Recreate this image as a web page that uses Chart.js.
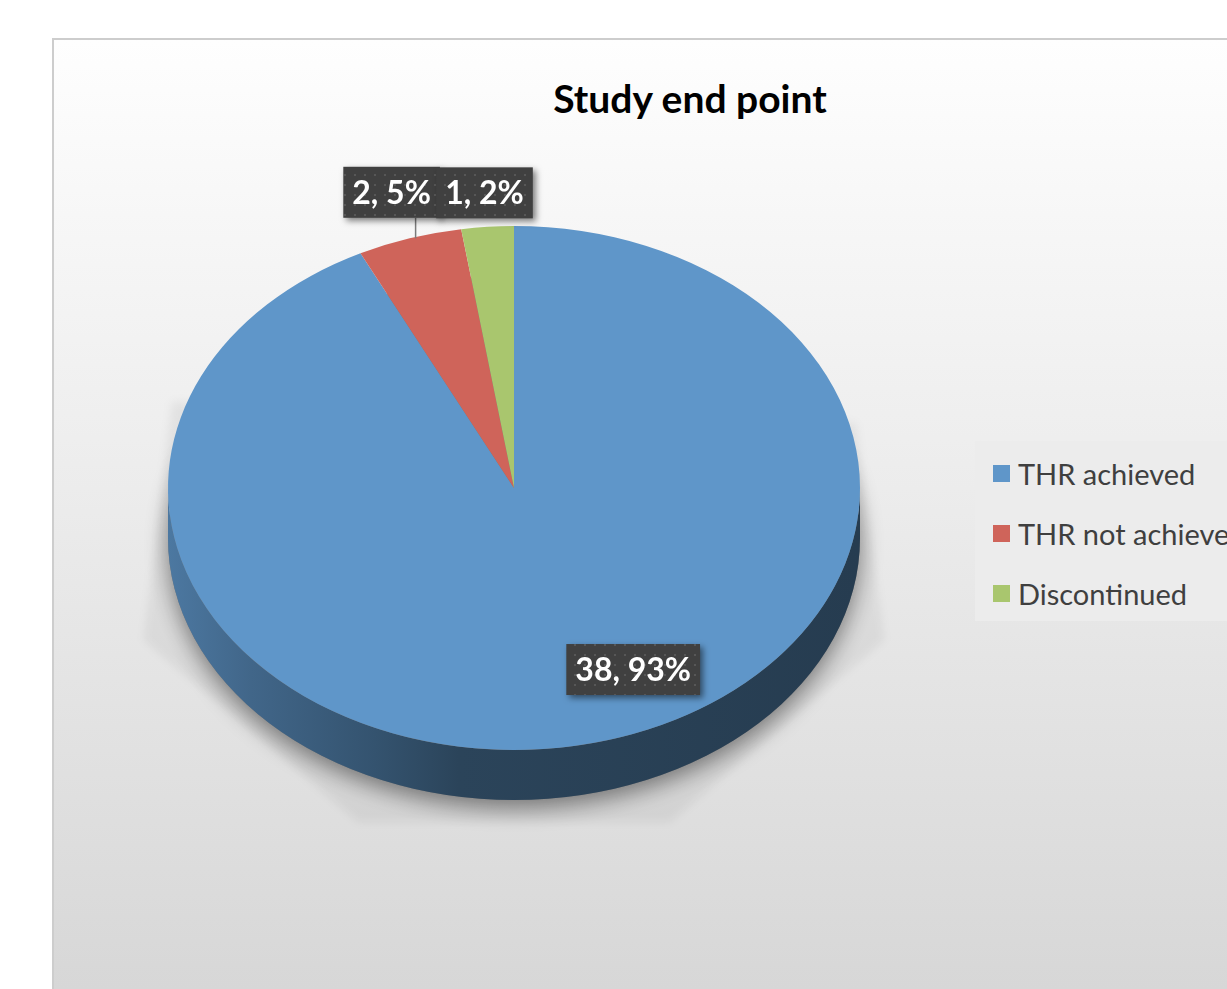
<!DOCTYPE html>
<html>
<head>
<meta charset="utf-8">
<script src="https://cdn.jsdelivr.net/npm/chart.js@4.4.0/dist/chart.umd.min.js"></script>
<style>
  html, body { margin: 0; padding: 0; background: #fff; overflow: hidden; }
  body { width: 1227px; height: 989px; position: relative; font-family: Lato, "Open Sans", sans-serif; }
  .panel {
    position: absolute; left: 52px; top: 38px; width: 1260px; height: 1000px;
    box-sizing: border-box; border: 2px solid #cdcdcd;
    background: linear-gradient(to bottom, #fefefe 0%, #ececec 45%, #d5d5d5 100%);
  }
  .title {
    position: absolute; left: 440px; width: 500px; top: 75px;
    text-align: center; font-weight: bold; font-size: 39px; color: #000;
  }
  .legend {
    position: absolute; left: 975px; top: 441px; width: 300px; height: 180px;
    background: #ececec;
  }
  .legend-item {
    position: absolute; left: 18px; height: 30px;
    display: flex; align-items: center; white-space: nowrap;
    font-size: 29px; color: #3f3f3f;
  }
  .legend-item span.box { width: 17px; height: 17px; margin-right: 8px; display: inline-block; }
  canvas { position: absolute; left: 0; top: 0; }
</style>
</head>
<body>
<div class="panel"></div>
<div class="title">Study end point</div>
<div class="legend" id="legend"></div>
<canvas id="studyChart" width="1227" height="989"></canvas>

<script>
// data
const categories = ['THR achieved', 'THR not achieved', 'Discontinued'];
const patientCounts = [38, 2, 1];
const sliceColors = ['#5f96c9', '#cf645a', '#a9c66e'];

const total = patientCounts.reduce((a, b) => a + b, 0);

// html legend
const legendEl = document.getElementById('legend');
categories.forEach((name, i) => {
  const item = document.createElement('div');
  item.className = 'legend-item';
  item.style.top = (17 + i * 60) + 'px';
  item.innerHTML = '<span class="box" style="background:' + sliceColors[i] + '"></span>' + name;
  legendEl.appendChild(item);
});

// kleur donkerder maken voor de zijkant
function shade(hex, f) {
  const n = parseInt(hex.slice(1), 16);
  const r = Math.round(((n >> 16) & 255) * f);
  const g = Math.round(((n >> 8) & 255) * f);
  const b = Math.round((n & 255) * f);
  return 'rgb(' + r + ',' + g + ',' + b + ')';
}

// gestippeld patroon voor de labels
function makePattern(ctx) {
  const c = document.createElement('canvas');
  c.width = 10; c.height = 10;
  const p = c.getContext('2d');
  p.fillStyle = '#404040';
  p.fillRect(0, 0, 10, 10);
  p.fillStyle = '#575757';
  p.fillRect(4, 4, 2, 2);
  return ctx.createPattern(c, 'repeat');
}

const pie3d = {
  id: 'pie3d',
  beforeDatasetsDraw(chart, args, opts) {
    const arcs = chart.getDatasetMeta(0).data;
    if (!arcs.length) return;
    const ctx = chart.ctx;
    const cx = arcs[0].x, cy = arcs[0].y, rx = arcs[0].outerRadius;
    const ry = rx * opts.tilt, depth = opts.depth;

    // vloer schaduw
    ctx.save();
    ctx.filter = 'blur(4px)';
    ctx.fillStyle = 'rgba(0,0,0,0.05)';
    ctx.beginPath();
    ctx.moveTo(cx - rx + 4, cy - ry * 0.33);
    ctx.lineTo(cx + rx - 4, cy - ry * 0.25);
    ctx.lineTo(cx + rx + 24, cy + ry * 0.58);
    ctx.lineTo(cx + rx * 0.45, cy + ry + depth + 22);
    ctx.lineTo(cx - rx * 0.45, cy + ry + depth + 22);
    ctx.lineTo(cx - rx - 24, cy + ry * 0.58);
    ctx.closePath();
    ctx.fill();
    ctx.restore();

    // schaduw onder de taart
    ctx.save();
    ctx.shadowColor = 'rgba(0,0,0,0.45)';
    ctx.shadowBlur = 22;
    ctx.shadowOffsetY = 8;
    ctx.fillStyle = '#777';
    ctx.beginPath();
    ctx.ellipse(cx, cy + depth, rx, ry, 0, 0, Math.PI * 2);
    ctx.fill();
    ctx.restore();

    // zijkanten
    arcs.forEach((arc, i) => {
      const base = sliceColors[i];
      const grad = ctx.createLinearGradient(cx - rx, 0, cx + rx, 0);
      grad.addColorStop(0, shade(base, 0.8));
      grad.addColorStop(0.12, shade(base, 0.68));
      grad.addColorStop(0.3, shade(base, 0.55));
      grad.addColorStop(0.42, shade(base, 0.45));
      grad.addColorStop(1, shade(base, 0.4));
      ctx.fillStyle = grad;
      for (let k = -1; k <= 1; k++) {
        const a0 = Math.max(arc.startAngle + 2 * Math.PI * k, 0);
        const a1 = Math.min(arc.endAngle + 2 * Math.PI * k, Math.PI);
        if (a1 <= a0) continue;
        ctx.beginPath();
        ctx.ellipse(cx, cy, rx, ry, 0, a0, a1);
        ctx.ellipse(cx, cy + depth, rx, ry, 0, a1, a0, true);
        ctx.closePath();
        ctx.fill();
      }
    });

    // bovenkant als ellips tekenen
    ctx.save();
    ctx.translate(cx, cy);
    ctx.scale(1, opts.tilt);
    ctx.translate(-cx, -cy);
  },
  afterDatasetsDraw(chart, args, opts) {
    const arcs = chart.getDatasetMeta(0).data;
    if (!arcs.length) return;
    const ctx = chart.ctx;
    ctx.restore();

    const cx = arcs[0].x, cy = arcs[0].y, rx = arcs[0].outerRadius;
    const ry = rx * opts.tilt;
    const pattern = makePattern(ctx);
    ctx.font = 'bold 32px Lato';
    const boxes = arcs.map((arc, i) => {
      const spec = opts.labels[i];
      const mid = (arc.startAngle + arc.endAngle) / 2;
      const px = cx + Math.cos(mid) * rx * spec.r;
      const py = cy + Math.sin(mid) * ry * spec.r;
      const value = chart.data.datasets[0].data[i];
      const text = value + ', ' + Math.round(value / total * 100) + '%';
      const w = ctx.measureText(text).width + 18;
      return { px, py, x: px + spec.dx, y: py + spec.dy, w, h: 51, text, leader: spec.leader };
    });

    boxes.forEach(b => {
      if (b.leader) {
        ctx.strokeStyle = '#7a7a7a';
        ctx.lineWidth = 1.5;
        ctx.beginPath();
        ctx.moveTo(b.px + 6, b.py);
        ctx.lineTo(b.px + 6, b.y + b.h / 2);
        ctx.stroke();
      }
      ctx.save();
      ctx.shadowColor = 'rgba(0,0,0,0.5)';
      ctx.shadowBlur = 6;
      ctx.shadowOffsetX = 3;
      ctx.shadowOffsetY = 3;
      ctx.fillStyle = pattern;
      ctx.fillRect(b.x - b.w / 2, b.y - b.h / 2, b.w, b.h);
      ctx.restore();
    });
    ctx.fillStyle = '#ffffff';
    ctx.textAlign = 'center';
    ctx.textBaseline = 'middle';
    boxes.forEach(b => ctx.fillText(b.text, b.x, b.y + 1));
  }
};

new Chart(document.getElementById('studyChart'), {
  type: 'pie',
  data: {
    labels: categories,
    datasets: [{
      data: patientCounts,
      backgroundColor: sliceColors,
      borderWidth: 0,
      hoverOffset: 0,
      clip: false
    }]
  },
  options: {
    responsive: false,
    animation: false,
    devicePixelRatio: 1,
    events: [],
    layout: { padding: { left: 168, right: 367, top: 142, bottom: 155 } },
    plugins: {
      legend: { display: false },
      title: { display: false },
      tooltip: { enabled: false },
      pie3d: {
        tilt: 0.757,
        depth: 50,
        labels: [
          { r: 0.7, dx: 64, dy: 3, leader: false },
          { r: 1, dx: -18, dy: -46, leader: true },
          { r: 1, dx: -3, dy: -34, leader: false }
        ]
      }
    }
  },
  plugins: [pie3d]
});
</script>
</body>
</html>
